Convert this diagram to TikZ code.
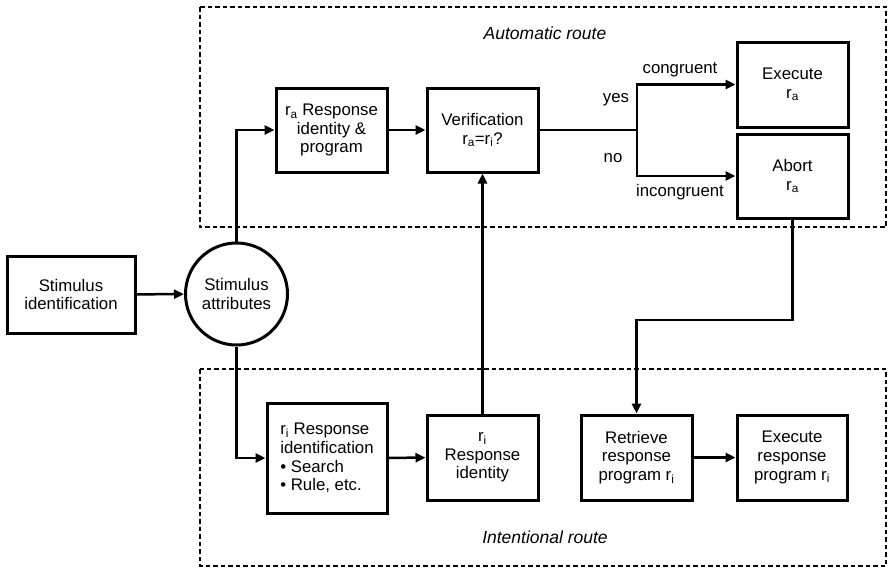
\documentclass[tikz,border=0pt]{standalone}
\usepackage{fontspec}
\setmainfont{Liberation Sans}
\usetikzlibrary{arrows.meta}

\tikzset{
  txt/.style={font=\fontsize{16.8}{18.6}\selectfont, align=center, inner sep=0pt},
  procbox/.style={txt, draw, line width=3pt, rectangle},
  attrcircle/.style={txt, draw, line width=3pt, circle, minimum size=102pt},
  link/.style={line width=2.5pt},
  arr/.style={link, -{Triangle[length=10pt,width=9pt]}},
  routebox/.style={line width=2.5pt, dash pattern=on 4.5pt off 3pt},
  routelabel/.style={txt, font=\fontsize{17.5}{18.6}\selectfont\itshape},
}

\newcommand{\sa}{r\textsubscript{a}}
\newcommand{\si}{r\textsubscript{i}}

\begin{document}
\begin{tikzpicture}[x=1pt, y=-1pt]
  \useasboundingbox (0,0) rectangle (889,573);

  % route regions
  \draw[routebox] (200,7) rectangle (886,227);
  \draw[routebox] (200,369) rectangle (886,566);
  \node[routelabel] (autolabel) at (545,33) {Automatic route};
  \node[routelabel] (intlabel) at (545,537) {Intentional route};

  % stimulus stage
  \node[procbox, minimum width=128pt, minimum height=77pt] (sid) at (71,294.5) {Stimulus\\identification};
  \node[attrcircle] (attr) at (236.5,294) {Stimulus\\attributes};

  % automatic route
  \node[procbox, minimum width=111pt, minimum height=84pt] (ra) at (331.5,130) {\sa{} Response\\identity \&\\program};
  \node[procbox, minimum width=111pt, minimum height=84pt] (ver) at (482.5,130) {Verification\\\sa=\si?};
  \node[procbox, minimum width=111pt, minimum height=85pt] (exa) at (792.5,84.5) {Execute\\\sa};
  \node[procbox, minimum width=111pt, minimum height=84pt] (abo) at (792.5,176) {Abort\\\sa};

  % intentional route
  \node[procbox, minimum width=120pt, minimum height=110pt, align=left] (rid) at (327,458) {\si{} Response\\identification\\\textbullet{} Search\\\textbullet{} Rule, etc.};
  \node[procbox, minimum width=111pt, minimum height=85pt] (rident) at (482.5,457.5) {\si\\Response\\identity};
  \node[procbox, minimum width=111pt, minimum height=85pt] (ret) at (636.5,457.5) {Retrieve\\response\\program \si};
  \node[procbox, minimum width=110pt, minimum height=85pt] (exr) at (792,457.5) {Execute\\response\\program \si};

  % branch labels
  \node[txt] (lcong) at (680,70) {congruent};
  \node[txt] (lyes) at (616,100) {yes};
  \node[txt] (lno) at (613,158) {no};
  \node[txt] (lincong) at (680,192) {incongruent};

  % helper points
  \coordinate (split) at (637,130);
  \coordinate (bend) at (636.5,320);

  % connectors
  \draw[arr] (sid) -- (attr);
  \draw[arr] (attr.north) |- (ra.west);
  \draw[arr] (ra) -- (ver);
  \draw[link] (ver.east) -- (split);
  \draw[arr] (split) |- (exa.west);
  \draw[arr] (split) |- (abo.west);
  \draw[arr] (abo.south) |- (bend) -- (ret.north);
  \draw[arr] (attr.south) |- (rid.west);
  \draw[arr] (rid) -- (rident);
  \draw[arr] (rident.north) -- (ver.south);
  \draw[arr] (ret) -- (exr);
\end{tikzpicture}
\end{document}
